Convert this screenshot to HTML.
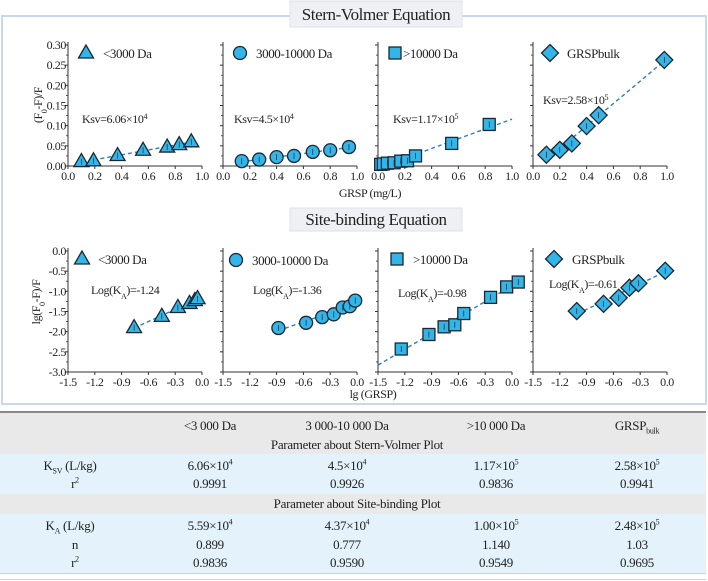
<!DOCTYPE html>
<html><head><meta charset="utf-8">
<style>
body{margin:0;width:708px;height:581px;background:#fff;position:relative;overflow:hidden;font-family:"Liberation Serif","Times New Roman",serif;}
svg text{font-family:"Liberation Serif","Times New Roman",serif;fill:#222;letter-spacing:-0.4px;}
#tbl{position:absolute;left:0;top:411px;width:706px;border-top:2px solid #8a8a8a;font-size:13px;color:#222;letter-spacing:-0.3px;}
.row{position:absolute;left:0;width:706px;}
.c{position:absolute;transform:translateX(-50%);white-space:nowrap;line-height:16px;}
sub,sup{font-size:8px;line-height:0;}
</style></head><body>
<svg id="chart" width="708" height="410" style="position:absolute;left:0;top:0">
<rect x="2" y="16" width="704" height="388" fill="none" stroke="#c9d7ec" stroke-width="2"/>
<rect x="290" y="1" width="172" height="26" fill="#eef0f4" stroke="#dde2ea"/>
<text x="376" y="20" font-size="17" text-anchor="middle">Stern-Volmer Equation</text>
<rect x="290" y="208" width="172" height="23" fill="#eef0f4" stroke="#dde2ea"/>
<text x="376" y="225" font-size="17" text-anchor="middle">Site-binding Equation</text>
<text transform="translate(42,105) rotate(-90)" font-size="12" text-anchor="middle">(F<tspan baseline-shift="sub" font-size="8">0</tspan>-F)/F</text>
<text x="370" y="197" font-size="12" text-anchor="middle">GRSP (mg/L)</text>
<text transform="translate(40,302) rotate(-90)" font-size="12" text-anchor="middle">lg(F<tspan baseline-shift="sub" font-size="8">0</tspan>-F)/F</text>
<text x="373" y="398" font-size="12" text-anchor="middle">lg (GRSP)</text>
<g id="plots"></g>
</svg>

<div id="tbl">
 <div class="row" style="top:0;height:41px;background:#e9e9e9">
  <span class="c" style="left:210px;top:5px">&lt;3 000 Da</span>
  <span class="c" style="left:347px;top:5px">3 000-10 000 Da</span>
  <span class="c" style="left:496px;top:5px">&gt;10 000 Da</span>
  <span class="c" style="left:637px;top:5px">GRSP<sub>bulk</sub></span>
  <span class="c" style="left:357px;top:24px">Parameter about Stern-Volmer Plot</span>
 </div>
 <div class="row" style="top:41px;height:40px;background:#e3f2fb">
  <span class="c" style="left:70px;top:4px">K<sub>SV</sub> (L/kg)</span>
  <span class="c" style="left:210px;top:4px">6.06×10<sup>4</sup></span>
  <span class="c" style="left:347px;top:4px">4.5×10<sup>4</sup></span>
  <span class="c" style="left:496px;top:4px">1.17×10<sup>5</sup></span>
  <span class="c" style="left:637px;top:4px">2.58×10<sup>5</sup></span>
  <span class="c" style="left:75px;top:22px">r<sup>2</sup></span>
  <span class="c" style="left:210px;top:22px">0.9991</span>
  <span class="c" style="left:347px;top:22px">0.9926</span>
  <span class="c" style="left:496px;top:22px">0.9836</span>
  <span class="c" style="left:637px;top:22px">0.9941</span>
 </div>
 <div class="row" style="top:81px;height:20px;background:#e9e9e9">
  <span class="c" style="left:357px;top:2px">Parameter about Site-binding Plot</span>
 </div>
 <div class="row" style="top:101px;height:59px;background:#e3f2fb;border-bottom:1px solid #c8d2dc">
  <span class="c" style="left:70px;top:4px">K<sub>A</sub> (L/kg)</span>
  <span class="c" style="left:210px;top:4px">5.59×10<sup>4</sup></span>
  <span class="c" style="left:347px;top:4px">4.37×10<sup>4</sup></span>
  <span class="c" style="left:496px;top:4px">1.00×10<sup>5</sup></span>
  <span class="c" style="left:637px;top:4px">2.48×10<sup>5</sup></span>
  <span class="c" style="left:75px;top:23px">n</span>
  <span class="c" style="left:210px;top:23px">0.899</span>
  <span class="c" style="left:347px;top:23px">0.777</span>
  <span class="c" style="left:496px;top:23px">1.140</span>
  <span class="c" style="left:637px;top:23px">1.03</span>
  <span class="c" style="left:75px;top:41px">r<sup>2</sup></span>
  <span class="c" style="left:210px;top:41px">0.9836</span>
  <span class="c" style="left:347px;top:41px">0.9590</span>
  <span class="c" style="left:496px;top:41px">0.9549</span>
  <span class="c" style="left:637px;top:41px">0.9695</span>
 </div>
 <div class="row" style="top:166px;height:0;border-top:1px solid #c8d2dc"></div>
</div>

<script>
// Stern-Volmer data
const svX1=[0.1,0.19,0.37,0.56,0.74,0.83,0.92];
const svY1=[0.011,0.013,0.026,0.039,0.047,0.053,0.060];
const svX2=[0.14,0.27,0.4,0.53,0.67,0.8,0.94];
const svY2=[0.012,0.016,0.022,0.025,0.035,0.039,0.047];
const svX3=[0.02,0.04,0.07,0.12,0.17,0.22,0.28,0.55,0.83];
const svY3=[0.004,0.005,0.007,0.008,0.012,0.013,0.025,0.056,0.103];
const svX4=[0.1,0.2,0.29,0.4,0.49,0.98];
const svY4=[0.028,0.040,0.056,0.099,0.126,0.263];
// Site-binding data
const sbX1=[-0.76,-0.45,-0.27,-0.14,-0.08,-0.05];
const sbY1=[-1.90,-1.62,-1.40,-1.30,-1.23,-1.18];
const sbX2=[-0.88,-0.57,-0.39,-0.26,-0.16,-0.08,-0.02];
const sbY2=[-1.91,-1.78,-1.64,-1.57,-1.40,-1.37,-1.23];
const sbX3=[-1.24,-0.93,-0.76,-0.64,-0.54,-0.24,-0.06,0.07];
const sbY3=[-2.43,-2.07,-1.88,-1.83,-1.55,-1.15,-0.89,-0.77];
const sbX4=[-1.01,-0.71,-0.54,-0.42,-0.32,-0.02];
const sbY4=[-1.49,-1.31,-1.16,-0.91,-0.80,-0.49];
const legendLabels=["<3000 Da","3000-10000 Da",">10000 Da","GRSPbulk"];
const ksvLabels=["Ksv=6.06×10","Ksv=4.5×10","Ksv=1.17×10","Ksv=2.58×10"];
const ksvExp=["4","4","5","5"];
const logKaLabels=["-1.24","-1.36","-0.98","-0.61"];
const svTicksX=[0,0.2,0.4,0.6,0.8,1.0];
const svTicksY=[0,0.05,0.1,0.15,0.2,0.25,0.3];
const sbTicksX=[-1.5,-1.2,-0.9,-0.6,-0.3,0];
const sbTicksY=[0,-0.5,-1,-1.5,-2,-2.5,-3];

const NS="http://www.w3.org/2000/svg";
const G=document.getElementById('plots');
function mk(tag,at,parent){const e=document.createElementNS(NS,tag);for(const k in at)e.setAttribute(k,at[k]);(parent||G).appendChild(e);return e;}
const shapes=["tri","circ","sq","dia"];
function marker(shape,cx,cy,name){
  let e;
  const st={fill:"#33b5e8",stroke:"#1b2733","stroke-width":"1.3"};
  if(shape==="tri") e=mk('polygon',Object.assign({points:`${cx},${cy-8} ${cx-7.5},${cy+5} ${cx+7.5},${cy+5}`},st));
  else if(shape==="circ") e=mk('circle',Object.assign({cx:cx,cy:cy,r:6.5},st));
  else if(shape==="sq") e=mk('rect',Object.assign({x:cx-6,y:cy-6,width:12,height:12},st));
  else e=mk('polygon',Object.assign({points:`${cx},${cy-8.5} ${cx+8.5},${cy} ${cx},${cy+8.5} ${cx-8.5},${cy}`},st));
  
  
  return e;
}
function fit(xs,ys){const n=xs.length;let sx=0,sy=0,sxx=0,sxy=0;for(let i=0;i<n;i++){sx+=xs[i];sy+=ys[i];sxx+=xs[i]*xs[i];sxy+=xs[i]*ys[i];}const b=(n*sxy-sx*sy)/(n*sxx-sx*sx);return{b:b,a:(sy-b*sx)/n};}

const origins=[68,223,378,533];
function panel(i,cfg){
  const x0=origins[i],W=134;
  const X=v=>x0+(v-cfg.xmin)/(cfg.xmax-cfg.xmin)*W;
  const Y=v=>cfg.y0+(cfg.ymax-v)/(cfg.ymax-cfg.ymin)*(cfg.y1-cfg.y0);
  let a=mk('line',{x1:x0,y1:cfg.y0-3,x2:x0,y2:cfg.y1,stroke:"#333","stroke-width":1});
  
  
  a=mk('line',{x1:x0,y1:cfg.y1,x2:x0+W,y2:cfg.y1,stroke:"#333","stroke-width":1});
  
  
  cfg.ty.forEach((t,k)=>{
    const y=Y(t);
    mk('line',{x1:x0-3,y1:y,x2:x0,y2:y,stroke:"#333","stroke-width":1});
    if(k<cfg.ty.length-1){const y2=(y+Y(cfg.ty[k+1]))/2;mk('line',{x1:x0-2,y1:y2,x2:x0,y2:y2,stroke:"#333","stroke-width":0.8});}
    if(i===0){const tx=mk('text',{x:x0-2,y:y+4,"font-size":12,"text-anchor":"end"});tx.textContent=cfg.fmtY(t);
      
      }
  });
  cfg.tx.forEach(t=>{
    const x=X(t);
    mk('line',{x1:x,y1:cfg.y1,x2:x,y2:cfg.y1+3,stroke:"#333","stroke-width":1});
    const tx=mk('text',{x:x,y:cfg.y1+14,"font-size":12,"text-anchor":"middle"});tx.textContent=cfg.fmtX(t);
    
    
  });
  const f=fit(cfg.xs,cfg.ys);
  const l=mk('line',{x1:X(cfg.lr[0]),y1:Y(f.a+f.b*cfg.lr[0]),x2:X(cfg.lr[1]),y2:Y(f.a+f.b*cfg.lr[1]),stroke:"#2a7fc0","stroke-width":1.4,"stroke-dasharray":"4,3"});
  
  
  cfg.xs.forEach((v,k)=>{
    const cx=X(v),cy=Y(cfg.ys[k]);
    marker(shapes[i],cx,cy,cfg.pre+'-point');
    mk('line',{x1:cx,y1:cy-3,x2:cx,y2:cy+3,stroke:"#1b2733","stroke-width":0.7});
  });
  marker(shapes[i],cfg.lg[0],cfg.lg[1],cfg.pre+'-legend-marker');
  let t=mk('text',{x:cfg.lg[2],y:cfg.lg[1]+5,"font-size":13});t.textContent=legendLabels[i];
  
  
  t=mk('text',{x:cfg.an[0],y:cfg.an[1],"font-size":12});
  
  
  t.innerHTML=cfg.ann;
}
const svData=[[svX1,svY1],[svX2,svY2],[svX3,svY3],[svX4,svY4]];
const svRanges=[[0.19,0.92],[0.14,0.94],[0.25,1.0],[0.1,1.0]];
const svLeg=[[86,53,103],[240,53,256],[395,53,403],[550,53,567]];
const svAnn=[[82,123],[234,123],[393,123],[543,104]];
svData.forEach((d,i)=>panel(i,{pre:'sv',xmin:0,xmax:1,ymin:0,ymax:0.3,y0:45,y1:166,xs:d[0],ys:d[1],lr:svRanges[i],
  tx:svTicksX,ty:svTicksY,fmtX:v=>v.toFixed(1),fmtY:v=>v.toFixed(2),lg:svLeg[i],an:svAnn[i],
  ann:ksvLabels[i]+'<tspan baseline-shift="super" font-size="8">'+ksvExp[i]+'</tspan>'}));
const sbData=[[sbX1,sbY1],[sbX2,sbY2],[sbX3,sbY3],[sbX4,sbY4]];
const sbRanges=[[-0.76,-0.05],[-0.88,-0.02],[-1.5,0.0],[-1.0,0.0]];
const sbLeg=[[82,259,98],[236,260,252],[397,259,413],[554,259,572]];
const sbAnn=[[91,294],[253,294],[398,297],[549,288]];
sbData.forEach((d,i)=>panel(i,{pre:'sb',xmin:-1.5,xmax:0,ymin:-3,ymax:0,y0:251,y1:372,xs:d[0],ys:d[1],lr:sbRanges[i],
  tx:sbTicksX,ty:sbTicksY,fmtX:v=>v.toFixed(1),fmtY:v=>v.toFixed(1),lg:sbLeg[i],an:sbAnn[i],
  ann:'Log(K<tspan baseline-shift="sub" font-size="8">A</tspan>)=-'+logKaLabels[i].slice(1)}));
</script>
</body></html>
